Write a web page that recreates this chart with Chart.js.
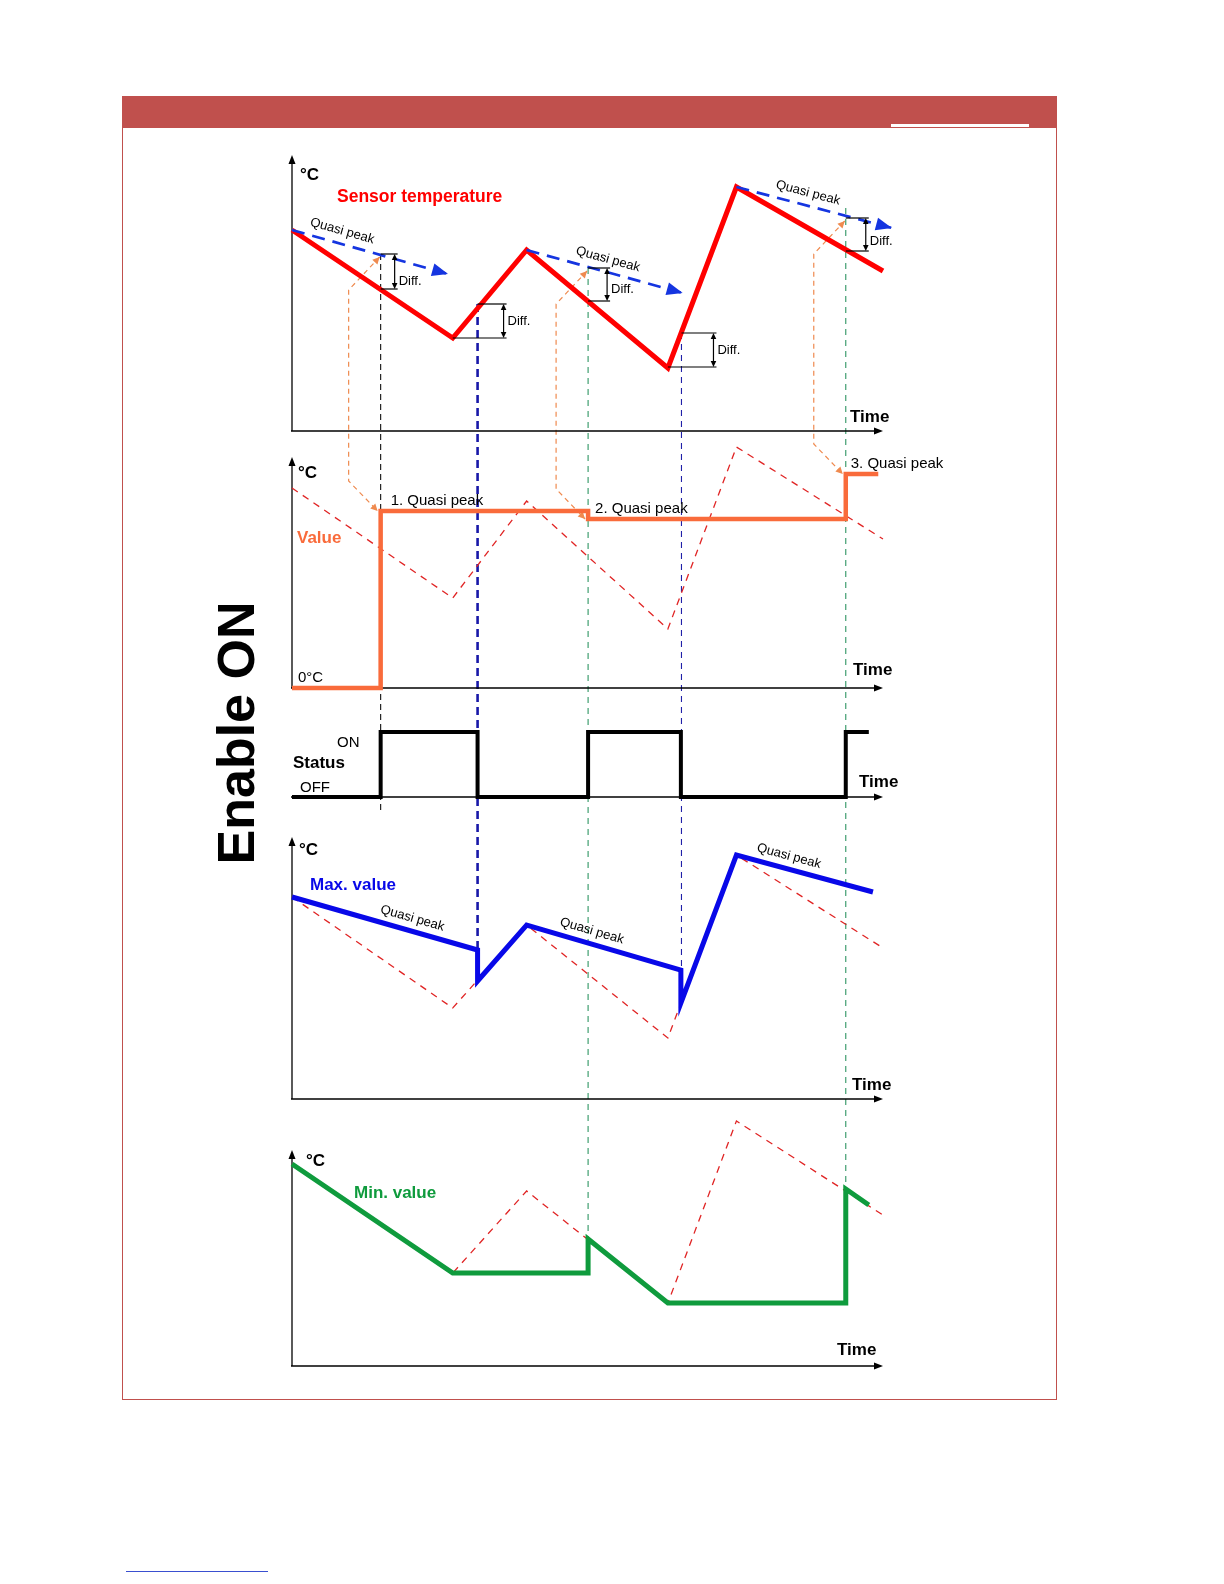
<!DOCTYPE html>
<html lang="en">
<head>
<meta charset="utf-8">
<title>Enable ON - quasi peak</title>
<script src="https://cdn.jsdelivr.net/npm/chart.js@4.4.1/dist/chart.umd.min.js"></script>
<style>
  html, body { margin: 0; padding: 0; background: #fff; }
  body { position: relative; width: 1224px; height: 1584px; overflow: hidden;
         font-family: "Liberation Sans", Arial, sans-serif; }
  #bar { position: absolute; left: 122px; top: 96px; width: 935px; height: 32px; background: #c0504d; }
  #barLine { position: absolute; left: 891px; top: 124px; width: 138px; height: 3px; background: #fff; }
  #frame { position: absolute; left: 122px; top: 128px; width: 933px; height: 1271px;
           border: 1px solid #c0504d; border-top: none; }
  #enable { position: absolute; left: 36px; top: 703px; width: 400px; height: 60px; line-height: 60px;
            text-align: center; font-weight: bold; font-size: 52px; color: #000;
            transform: rotate(-90deg); white-space: nowrap; }
  #link { position: absolute; left: 126px; top: 1571px; width: 142px; height: 1px; background: #3a4fd0; }
  canvas { position: absolute; left: 0; top: 0; }
  #guides { z-index: 1; }
  .panel { z-index: 2; }
</style>
</head>
<body>
<div id="bar"></div><div id="barLine"></div><div id="frame"></div>
<div id="enable">Enable ON</div>
<div id="link"></div>
<canvas id="guides" width="1224" height="1584"></canvas>
<canvas id="p1" class="panel" width="1224" height="1584"></canvas>
<canvas id="p2" class="panel" width="1224" height="1584"></canvas>
<canvas id="p3" class="panel" width="1224" height="1584"></canvas>
<canvas id="p4" class="panel" width="1224" height="1584"></canvas>
<canvas id="p5" class="panel" width="1224" height="1584"></canvas>
<script>
// time runs 0..100 along every x axis, temperatures in °C
const sensorT = [0, 27.2, 39.7, 63.6, 75.2, 100];
const sensorC = [20.1, 9.3, 18.1, 6.3, 24.4, 16.0];        // sensor temperature (panel 1)
const sensorValueC = [20.0, 9.0, 18.7, 5.9, 24.1, 14.9];   // dashed copy in the Value panel
const sensorMaxC = [20.2, 9.1, 17.4, 6.1, 24.4, 15.1];     // dashed copy in the Max panel
const sensorMinC = [20.2, 9.3, 17.5, 6.3, 24.5, 15.1];     // dashed copy in the Min panel

// quasi peak lines (blue dashed arrows)
const qpStartT = [0, 39.7, 75.2];
const qpStartC = [20.1, 18.1, 24.4];
const qpEndT = [26.4, 66.1, 101.5];
const qpEndC = [15.7, 13.8, 20.3];

// hysteresis brackets "Diff."
const diffT = [15, 31.4, 50.1, 65.9, 93.7];
const diffLoT = [15, 27.2, 50.1, 63.6, 93.7];
const diffHiC = [17.7, 12.7, 16.3, 9.8, 21.3];
const diffLoC = [14.2, 9.3, 13.0, 6.4, 18.0];

// Value output
const valueT = [0, 15, 15, 50.1, 50.1, 93.7, 93.7, 99.2];
const valueC = [0, 0, 17.7, 17.7, 16.9, 16.9, 21.4, 21.4];
const captureT = [15, 50.1, 93.7];
const captureLabels = ['1. Quasi peak', '2. Quasi peak', '3. Quasi peak'];

// Status
const statusT = [0, 15, 15, 31.4, 31.4, 50.1, 50.1, 65.8, 65.8, 93.7, 93.7, 97.6];
const statusV = [0, 0, 1, 1, 0, 0, 1, 1, 0, 0, 1, 1];
const statusLabels = ['OFF', 'ON'];

// Max. value
const maxT = [0, 31.4, 31.4, 39.7, 65.8, 65.8, 75.2, 98.3];
const maxC = [20.2, 14.9, 11.8, 17.4, 12.9, 9.6, 24.4, 20.7];

// Min. value
const minT = [0, 27.2, 50.1, 50.1, 63.6, 93.7, 93.7, 97.6];
const minC = [20.2, 9.3, 9.3, 12.7, 6.3, 6.3, 17.7, 16.1];

const W = 1224, H = 1584;
const PLOT_LEFT = 292, PLOT_RIGHT = 883;
const FONT = '"Liberation Sans", Arial, sans-serif';
const RED = '#ff0000', RED_DASH = '#e02424', QP_BLUE = '#1535e0', ORANGE = '#f96b3b';
const BLUE = '#0808e8', GREEN = '#0f9b3d', ORANGE_DASH = '#ef8a4f';

function pontos(ts, vs) {
    return ts.map((t, i) => ({ x: t, y: vs[i] }));
}

function linha(ts, vs, cor, largura, extra) {
    return Object.assign({
        data: pontos(ts, vs),
        borderColor: cor,
        borderWidth: largura,
        pointRadius: 0,
        tension: 0,
        fill: false,
        clip: false,
        borderJoinStyle: 'miter',
        borderCapStyle: 'butt'
    }, extra || {});
}

function seta(ctx, x0, y0, x1, y1, comp, meia, cor) {
    const ang = Math.atan2(y1 - y0, x1 - x0);
    ctx.save();
    ctx.translate(x1, y1);
    ctx.rotate(ang);
    ctx.fillStyle = cor;
    ctx.beginPath();
    ctx.moveTo(0, 0);
    ctx.lineTo(-comp, -meia);
    ctx.lineTo(-comp, meia);
    ctx.closePath();
    ctx.fill();
    ctx.restore();
}

function texto(ctx, t, x, y, fonte, cor, base) {
    ctx.save();
    ctx.font = fonte;
    ctx.fillStyle = cor || '#000';
    ctx.textAlign = 'left';
    ctx.textBaseline = base || 'alphabetic';
    ctx.fillText(t, x, y);
    ctx.restore();
}

function segmento(ctx, x0, y0, x1, y1) {
    ctx.beginPath();
    ctx.moveTo(x0, y0);
    ctx.lineTo(x1, y1);
    ctx.stroke();
}

function eixos(chart, comY) {
    const { ctx, chartArea: a } = chart;
    ctx.save();
    ctx.strokeStyle = '#000';
    ctx.lineWidth = 1.3;
    ctx.setLineDash([]);
    segmento(ctx, a.left - 1, a.bottom, a.right - 5, a.bottom);
    if (comY) segmento(ctx, a.left, a.bottom, a.left, a.top + 5);
    ctx.restore();
    seta(ctx, a.left, a.bottom, a.right, a.bottom, 9, 3.5, '#000');
    if (comY) seta(ctx, a.left, a.bottom, a.left, a.top, 9, 3.5, '#000');
}

// "Quasi peak" written along a line, fraction f of the way
function rotuloQuasePeak(ctx, x0, y0, x1, y1, f) {
    ctx.save();
    ctx.translate(x0 + f * (x1 - x0), y0 + f * (y1 - y0));
    ctx.rotate(Math.atan2(y1 - y0, x1 - x0));
    ctx.font = '13px ' + FONT;
    ctx.fillStyle = '#000';
    ctx.textAlign = 'center';
    ctx.fillText('Quasi peak', 0, -9);
    ctx.restore();
}

function criarPainel(id, topo, base, yMin, yMax, datasets, comY, desenhar) {
    return new Chart(document.getElementById(id), {
        type: 'line',
        data: { datasets },
        options: {
            responsive: false,
            animation: false,
            events: [],
            layout: { padding: { left: PLOT_LEFT, right: W - PLOT_RIGHT, top: topo, bottom: H - base } },
            scales: {
                x: { type: 'linear', min: 0, max: 100, display: false },
                y: { type: 'linear', min: yMin, max: yMax, display: false }
            },
            plugins: { legend: { display: false }, tooltip: { enabled: false } }
        },
        plugins: [{
            id: 'desenho_' + id,
            beforeDatasetsDraw(chart) { eixos(chart, comY); },
            afterDatasetsDraw(chart) { if (desenhar) desenhar(chart, chart.ctx); }
        }]
    });
}

const bold17 = 'bold 17px ' + FONT;
const normal15 = '15px ' + FONT;

// Panel 1: sensor temperature
const painel1 = criarPainel('p1', 155, 431, 0, 27.6, [
    ...qpStartT.map((t, i) => linha([t, qpEndT[i]], [qpStartC[i], qpEndC[i]], QP_BLUE, 2.7,
        { borderDash: [13, 8], order: 0 })),
    linha(sensorT, sensorC, RED, 5, { order: 1 })
], true, (chart, ctx) => {
    const x = v => chart.scales.x.getPixelForValue(v);
    const y = v => chart.scales.y.getPixelForValue(v);
    const fracs = [0.30, 0.50, 0.44];
    qpStartT.forEach((t, i) => {
        const x0 = x(t), y0 = y(qpStartC[i]), x1 = x(qpEndT[i]), y1 = y(qpEndC[i]);
        seta(ctx, x0, y0, x1, y1, 16, 6.5, QP_BLUE);
        rotuloQuasePeak(ctx, x0, y0, x1, y1, fracs[i]);
    });
    // brackets
    const largura = [17, 29, 22, 35, 23];
    const dy = [10, 0, 5, 0, 7];
    diffT.forEach((t, i) => {
        const xe = x(t), xr = xe + largura[i], yh = y(diffHiC[i]), yl = y(diffLoC[i]);
        ctx.save();
        ctx.strokeStyle = '#000';
        ctx.lineWidth = 1.2;
        ctx.setLineDash([]);
        segmento(ctx, xe, yh, xr, yh);
        segmento(ctx, x(diffLoT[i]), yl, xr, yl);
        const xa = xr - 3;
        segmento(ctx, xa, yh + 5, xa, yl - 5);
        ctx.restore();
        seta(ctx, xa, yl, xa, yh, 6, 2.8, '#000');
        seta(ctx, xa, yh, xa, yl, 6, 2.8, '#000');
        texto(ctx, 'Diff.', xr + 1, (yh + yl) / 2 + dy[i], '13px ' + FONT, '#000', 'middle');
    });
    texto(ctx, '°C', 300, 180, bold17);
    texto(ctx, 'Sensor temperature', 337, 202, 'bold 17.5px ' + FONT, RED);
    texto(ctx, 'Time', 850, 422, bold17);
});

// Panel 2: Value
const painel2 = criarPainel('p2', 457, 688, 0, 23.1, [
    linha(valueT, valueC, ORANGE, 4.5, { order: 0 }),
    linha(sensorT, sensorValueC, RED_DASH, 1.3, { borderDash: [7, 6], order: 1 })
], true, (chart, ctx) => {
    const x = v => chart.scales.x.getPixelForValue(v);
    const y = v => chart.scales.y.getPixelForValue(v);
    const dx = [10, 7, 5];
    captureT.forEach((t, k) => {
        const idx = valueT.lastIndexOf(t);
        texto(ctx, captureLabels[k], x(t) + dx[k], y(valueC[idx]) - 6, normal15);
    });
    texto(ctx, '°C', 298, 478, bold17);
    texto(ctx, 'Value', 297, 543, bold17, ORANGE);
    texto(ctx, '0°C', 298, 682, normal15);
    texto(ctx, 'Time', 853, 675, bold17);
});

// Panel 3: Status
const painel3 = criarPainel('p3', 732, 797, 0, 1, [
    linha(statusT, statusV, '#000', 4, { order: 0 })
], false, (chart, ctx) => {
    const y = v => chart.scales.y.getPixelForValue(v);
    texto(ctx, statusLabels[1], 337, y(1) + 15, normal15);
    texto(ctx, 'Status', 293, 768, bold17);
    texto(ctx, statusLabels[0], 300, y(0) - 5, normal15);
    texto(ctx, 'Time', 859, 787, bold17);
});

// Panel 4: Max. value
const painel4 = criarPainel('p4', 837, 1099, 0, 26.2, [
    linha(maxT, maxC, BLUE, 5, { order: 0 }),
    linha(sensorT, sensorMaxC, RED_DASH, 1.3, { borderDash: [7, 6], order: 1 })
], true, (chart, ctx) => {
    const x = v => chart.scales.x.getPixelForValue(v);
    const y = v => chart.scales.y.getPixelForValue(v);
    const segs = [[0, 1], [3, 4], [6, 7]];
    const fracs = [0.63, 0.40, 0.36];
    segs.forEach(([a, b], i) => {
        rotuloQuasePeak(ctx, x(maxT[a]), y(maxC[a]), x(maxT[b]), y(maxC[b]), fracs[i]);
    });
    texto(ctx, '°C', 299, 855, bold17);
    texto(ctx, 'Max. value', 310, 890, bold17, BLUE);
    texto(ctx, 'Time', 852, 1090, bold17);
});

// Panel 5: Min. value
const painel5 = criarPainel('p5', 1150, 1366, 0, 21.6, [
    linha(minT, minC, GREEN, 5, { order: 0 }),
    linha(sensorT, sensorMinC, RED_DASH, 1.3, { borderDash: [7, 6], order: 1 })
], true, (chart, ctx) => {
    texto(ctx, '°C', 306, 1166, bold17);
    texto(ctx, 'Min. value', 354, 1198, bold17, GREEN);
    texto(ctx, 'Time', 837, 1355, bold17);
});

const paineis = [painel1, painel2, painel3, painel4, painel5];

// vertical guides and orange transfer arrows, drawn under all panels
function desenharGuias(ctx) {
    const px = t => painel1.scales.x.getPixelForValue(t);
    const py = (p, v) => paineis[p].scales.y.getPixelForValue(v);
    const fim = [
        [2, statusV[0], 13],
        [3, maxC[1], 0],
        [4, minC[2], 7],
        [3, maxC[4], 0],
        [4, minC[5], 5]
    ];
    const estilo = [
        ['#111111', 1.1, [6, 4]],
        ['#1818a8', 2.6, [8, 5]],
        ['#2f9563', 1.1, [6, 5]],
        ['#2020a8', 1.1, [6, 5]],
        ['#2f9563', 1.1, [6, 5]]
    ];
    const inicioDy = [0, 0, 0, 0, -10];
    diffT.forEach((t, i) => {
        const [cor, larg, tra] = estilo[i];
        ctx.save();
        ctx.strokeStyle = cor;
        ctx.lineWidth = larg;
        ctx.setLineDash(tra);
        segmento(ctx, px(t), py(0, diffHiC[i]) + inicioDy[i], px(t), py(fim[i][0], fim[i][1]) + fim[i][2]);
        ctx.restore();
    });

    captureT.forEach((t, k) => {
        const i = diffT.indexOf(t);
        const xa = px(t) - 1, ya = py(0, diffHiC[i]) + 3;
        const yd = py(1, valueC[valueT.lastIndexOf(t)]), xd = px(t) - 3;
        const xv = xa - 31, yb = ya + 33, yc = yd - 30;
        ctx.save();
        ctx.strokeStyle = ORANGE_DASH;
        ctx.lineWidth = 1.2;
        ctx.setLineDash([5, 4]);
        ctx.beginPath();
        ctx.moveTo(xa, ya);
        ctx.lineTo(xv, yb);
        ctx.lineTo(xv, yc);
        ctx.lineTo(xd, yd);
        ctx.stroke();
        ctx.restore();
        seta(ctx, xv, yb, xa, ya, 7, 3.5, ORANGE_DASH);
        seta(ctx, xv, yc, xd, yd, 7, 3.5, ORANGE_DASH);
    });
}

new Chart(document.getElementById('guides'), {
    type: 'line',
    data: { datasets: [] },
    options: {
        responsive: false,
        animation: false,
        events: [],
        layout: { padding: { left: PLOT_LEFT, right: W - PLOT_RIGHT, top: 155, bottom: 218 } },
        scales: {
            x: { type: 'linear', min: 0, max: 100, display: false },
            y: { type: 'linear', min: 0, max: 1, display: false }
        },
        plugins: { legend: { display: false }, tooltip: { enabled: false } }
    },
    plugins: [{ id: 'guias', afterDraw(chart) { desenharGuias(chart.ctx); } }]
});
</script>
</body>
</html>
